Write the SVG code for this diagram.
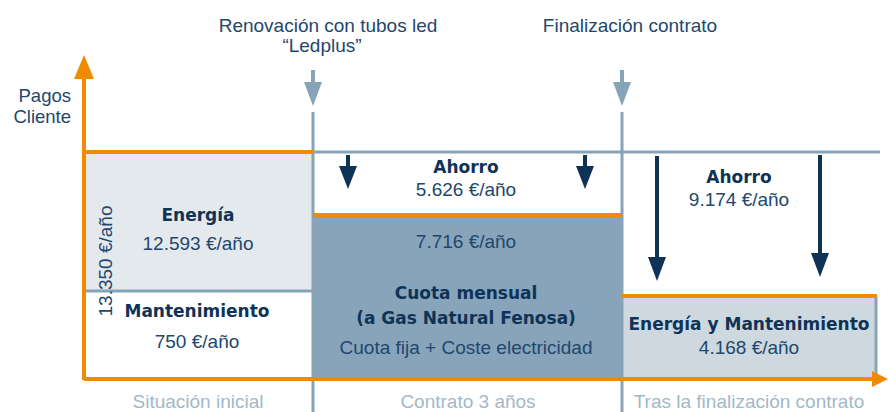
<svg xmlns="http://www.w3.org/2000/svg" width="888" height="412" viewBox="0 0 888 412">
<style>
text{font-family:"Liberation Sans",Arial,sans-serif;font-size:19px;fill:#22476d}
.b{font-family:"DejaVu Sans","Liberation Sans",sans-serif;font-size:17px;font-weight:bold;fill:#0f3356}
.c{text-anchor:middle}
.g{fill:#a3b8c7}
.gl{stroke:#87a3b7;stroke-width:3;fill:none}
.or{stroke:#f08a00;stroke-width:4;fill:none}
.nv{stroke:#0f3356;stroke-width:4;fill:none}
</style>
<g id="boxes">
<rect x="84" y="152" width="229" height="139" fill="#e4e9ed"/>
<rect x="313" y="216" width="309" height="163" fill="#87a4ba"/>
<rect x="622" y="297" width="254" height="82" fill="#cdd8df"/>
</g>
<g id="connectors">
<line class="gl" x1="84" y1="291" x2="313" y2="291"/>
<line class="gl" x1="313" y1="152" x2="880" y2="152"/>
<line class="gl" x1="313" y1="112" x2="313" y2="412"/>
<line class="gl" x1="622" y1="112" x2="622" y2="412"/>
<line class="gl" x1="876" y1="297" x2="876" y2="379"/>
<line class="or" x1="84" y1="152" x2="313" y2="152"/>
<line class="or" x1="313" y1="215" x2="622" y2="215"/>
<line class="or" x1="622" y1="296" x2="877" y2="296"/>
<line class="or" x1="84" y1="380" x2="84" y2="75"/>
<path d="M74,79 L84,55 L94,79 Z" fill="#f08a00"/>
<line class="or" x1="84" y1="379" x2="876" y2="379"/>
<path d="M872,371 L888,379 L872,387 Z" fill="#f08a00"/>
<line stroke="#87a3b7" stroke-width="4" x1="313" y1="70" x2="313" y2="84"/>
<path d="M304,82 L322,82 L313,106 Z" fill="#87a3b7"/>
<line stroke="#87a3b7" stroke-width="4" x1="622" y1="70" x2="622" y2="84"/>
<path d="M613,82 L631,82 L622,106 Z" fill="#87a3b7"/>
<line class="nv" x1="348" y1="155" x2="348" y2="168"/>
<path d="M339,166 L357,166 L348,189 Z" fill="#0f3356"/>
<line class="nv" x1="585" y1="155" x2="585" y2="168"/>
<path d="M576,166 L594,166 L585,189 Z" fill="#0f3356"/>
<line class="nv" x1="657" y1="156" x2="657" y2="260"/>
<path d="M648,257 L666,257 L657,281 Z" fill="#0f3356"/>
<line class="nv" x1="820" y1="155" x2="820" y2="256"/>
<path d="M811,253 L829,253 L820,277 Z" fill="#0f3356"/>
</g>
<g id="labels">
<text x="71" y="102" text-anchor="end" style="font-size:18.5px">Pagos</text>
<text x="71" y="123" text-anchor="end" style="font-size:18.5px">Cliente</text>
<text class="c" x="328" y="32">Renovación con tubos led</text>
<text class="c" x="322" y="52">“Ledplus”</text>
<text class="c" x="630" y="32">Finalización contrato</text>
</g>
<g id="situacion-inicial">
<text class="b c" x="198" y="221">Energía</text>
<text class="c" x="198" y="250">12.593 €/año</text>
<text class="b c" x="197" y="317">Mantenimiento</text>
<text class="c" x="197" y="348">750 €/año</text>
<text class="c" transform="translate(112,261) rotate(-90)">13.350 €/año</text>
<text class="c g" x="198" y="408">Situación inicial</text>
</g>
<g id="contrato">
<text class="b c" x="466" y="173">Ahorro</text>
<text class="c" x="466" y="196">5.626 €/año</text>
<text class="c" x="466" y="248">7.716 €/año</text>
<text class="b c" x="466" y="299">Cuota mensual</text>
<text class="b c" x="466" y="324">(a Gas Natural Fenosa)</text>
<text class="c" x="466" y="354">Cuota fija + Coste electricidad</text>
<text class="c g" x="468" y="408">Contrato 3 años</text>
</g>
<g id="tras">
<text class="b c" x="739" y="183">Ahorro</text>
<text class="c" x="739" y="206">9.174 €/año</text>
<text class="b c" x="749" y="330">Energía y Mantenimiento</text>
<text class="c" x="749" y="354">4.168 €/año</text>
<text class="c g" x="749" y="408">Tras la finalización contrato</text>
</g>
</svg>
